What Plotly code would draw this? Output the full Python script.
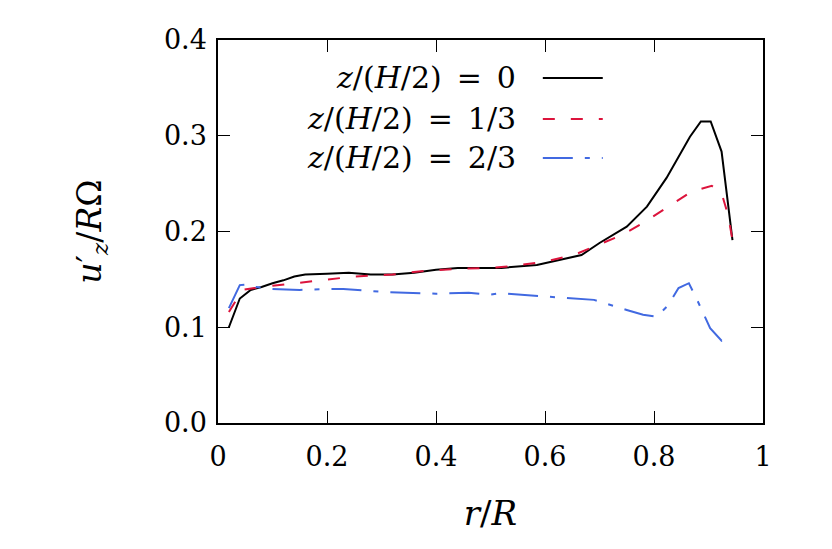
import plotly.graph_objects as go

# r/R positions and u'_z / R Omega profiles
r_mid = [0.02, 0.04, 0.06, 0.08, 0.10, 0.12, 0.14, 0.16, 0.20, 0.24, 0.28, 0.32,
         0.36, 0.40, 0.44, 0.50, 0.52, 0.585, 0.667, 0.70, 0.75, 0.787, 0.823,
         0.866, 0.886, 0.904, 0.924, 0.944]
u_mid = [0.100, 0.130, 0.139, 0.142, 0.146, 0.149, 0.153, 0.155, 0.156, 0.157, 0.155, 0.155,
         0.157, 0.160, 0.162, 0.162, 0.162, 0.165, 0.1755, 0.188, 0.205, 0.226, 0.256,
         0.299, 0.315, 0.315, 0.2835, 0.191]

r_third = [0.02, 0.045, 0.08, 0.14, 0.19, 0.25, 0.32, 0.38, 0.44, 0.50, 0.54, 0.60,
           0.655, 0.69, 0.74, 0.78, 0.82, 0.87, 0.906, 0.924, 0.936, 0.944]
u_third = [0.116, 0.139, 0.142, 0.146, 0.149, 0.153, 0.155, 0.159, 0.161, 0.162, 0.164, 0.1685,
           0.176, 0.184, 0.196, 0.209, 0.224, 0.242, 0.2477, 0.240, 0.217, 0.191]

r_two = [0.02, 0.04, 0.06, 0.07, 0.10, 0.15, 0.20, 0.23, 0.30, 0.34, 0.40, 0.46,
         0.50, 0.517, 0.60, 0.66, 0.69, 0.75, 0.78, 0.805, 0.826, 0.845, 0.864,
         0.878, 0.903, 0.924, 0.944]
u_two = [0.120, 0.144, 0.145, 0.142, 0.140, 0.139, 0.140, 0.140, 0.137, 0.136, 0.135, 0.136,
         0.134, 0.1355, 0.132, 0.1296, 0.1286, 0.118, 0.113, 0.111, 0.123, 0.141, 0.146,
         0.130, 0.099, 0.086, 0.092]

names = ["<i>z</i>/(<i>H</i>/2)\u2002=\u20020",
         "<i>z</i>/(<i>H</i>/2)\u2002=\u20021/3",
         "<i>z</i>/(<i>H</i>/2)\u2002=\u20022/3"]
colors = ["#000000", "#dc143c", "#4169e1"]
dashes = ["solid", "12px,16px", "30px,12px,5px,12px"]

FONT = "DejaVu Serif"

fig = go.Figure()
for x, y, c, d in zip([r_mid, r_third, r_two], [u_mid, u_third, u_two], colors, dashes):
    fig.add_trace(go.Scatter(x=x, y=y, mode="lines", line=dict(color=c, width=2, dash=d),
                             showlegend=False))

# legend drawn by hand: text on the left, line sample on the right
rows_y = [0.901, 0.794, 0.692]
for name, c, d, yy in zip(names, colors, dashes, rows_y):
    fig.add_annotation(x=0.55, y=yy, xref="paper", yref="paper", text=name,
                       showarrow=False, xanchor="right", yanchor="middle",
                       font=dict(family=FONT, size=30, color="black"))
    fig.add_shape(type="line", xref="paper", yref="paper", x0=0.596, x1=0.706,
                  y0=yy, y1=yy, line=dict(color=c, width=2, dash=d))

axis_style = dict(showline=True, linecolor="black", linewidth=1.5, mirror="ticks",
                  ticks="inside", ticklen=12, tickwidth=1.2, tickcolor="black",
                  showgrid=False, zeroline=False,
                  tickfont=dict(family=FONT, size=27, color="black"))

fig.update_layout(
    width=832, height=549,
    margin=dict(l=210, r=77, t=32, b=134),
    plot_bgcolor="white", paper_bgcolor="white",
    xaxis=dict(range=[0, 1], dtick=0.2, ticklabelstandoff=9,
               title=dict(text="<i>r</i>/<i>R</i>", font=dict(family=FONT, size=34, color="black"),
                          standoff=30),
               **axis_style),
    yaxis=dict(range=[0, 0.4], dtick=0.1, tickformat=".1f", ticklabelstandoff=4,
               title=dict(text="<i>u</i>\u2032<sub><i>z</i></sub>/<i>R</i>\u03a9",
                          font=dict(family=FONT, size=33, color="black"), standoff=52),
               **axis_style),
)

fig.write_html("out.html")
